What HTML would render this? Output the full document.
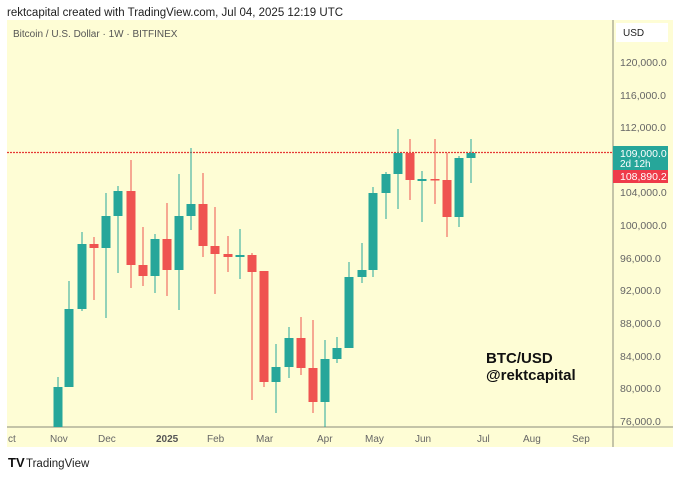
<!DOCTYPE html>
<html><head><meta charset="utf-8"><style>
body{margin:0;width:680px;height:474px;background:#fff;overflow:hidden;font-family:"Liberation Sans",sans-serif}
</style></head><body>
<svg width="680" height="474" xmlns="http://www.w3.org/2000/svg" font-family="Liberation Sans, sans-serif">
<text x="7" y="16" font-size="11.5" fill="#222">rektcapital created with TradingView.com, Jul 04, 2025 12:19 UTC</text>
<rect x="7" y="20" width="666" height="427" fill="#fefdd5"/>
<text x="13" y="37" font-size="10" fill="#555">Bitcoin / U.S. Dollar · 1W · BITFINEX</text>
<line x1="613" y1="20" x2="613" y2="447" stroke="#8a8a7a" stroke-width="1"/>
<line x1="7" y1="427" x2="673" y2="427" stroke="#8a8a7a" stroke-width="1"/>
<line x1="7" y1="152.5" x2="613" y2="152.5" stroke="#e53935" stroke-width="1.2" stroke-dasharray="2,1"/>
<rect x="616" y="23" width="52" height="19" fill="#fff"/>
<text x="623" y="36" font-size="10" fill="#222">USD</text>
<g font-size="10.5" fill="#666">
<text x="620" y="66">120,000.0</text>
<text x="620" y="99">116,000.0</text>
<text x="620" y="131">112,000.0</text>
<text x="620" y="196">104,000.0</text>
<text x="620" y="229">100,000.0</text>
<text x="620" y="262">96,000.0</text>
<text x="620" y="294">92,000.0</text>
<text x="620" y="327">88,000.0</text>
<text x="620" y="360">84,000.0</text>
<text x="620" y="392">80,000.0</text>
<text x="620" y="425">76,000.0</text>
</g>
<rect x="613" y="146" width="55" height="24" fill="#26a69a"/>
<text x="620" y="157" font-size="10.5" fill="#fff">109,000.0</text>
<text x="620" y="167" font-size="10" fill="#fff">2d 12h</text>
<rect x="613" y="170" width="55" height="13" fill="#ef3b4a"/>
<text x="620" y="180" font-size="10.5" fill="#fff">108,890.2</text>
<g font-size="10" fill="#666">
<text x="8" y="442">ct</text>
<text x="50" y="442">Nov</text>
<text x="98" y="442">Dec</text>
<text x="156" y="442" font-weight="bold" fill="#555">2025</text>
<text x="207" y="442">Feb</text>
<text x="256" y="442">Mar</text>
<text x="317" y="442">Apr</text>
<text x="365" y="442">May</text>
<text x="415" y="442">Jun</text>
<text x="477" y="442">Jul</text>
<text x="523" y="442">Aug</text>
<text x="572" y="442">Sep</text>
</g>
<g stroke-width="1">
<g fill="#26a69a" stroke="#26a69a">
<line x1="58" x2="58" y1="377" y2="427"/><rect x="53.5" y="387" width="9" height="40" stroke="none"/>
<line x1="69" x2="69" y1="281" y2="387"/><rect x="64.5" y="309" width="9" height="78" stroke="none"/>
<line x1="82" x2="82" y1="232" y2="311"/><rect x="77.5" y="244" width="9" height="65" stroke="none"/>
<line x1="106" x2="106" y1="193" y2="318"/><rect x="101.5" y="216" width="9" height="32" stroke="none"/>
<line x1="118" x2="118" y1="186" y2="273"/><rect x="113.5" y="191" width="9" height="25" stroke="none"/>
<line x1="155" x2="155" y1="234" y2="293"/><rect x="150.5" y="239" width="9" height="37" stroke="none"/>
<line x1="179" x2="179" y1="174" y2="310"/><rect x="174.5" y="216" width="9" height="54" stroke="none"/>
<line x1="191" x2="191" y1="148" y2="230"/><rect x="186.5" y="204" width="9" height="12" stroke="none"/>
<line x1="240" x2="240" y1="229" y2="279"/><rect x="235.5" y="255" width="9" height="2" stroke="none"/>
<line x1="276" x2="276" y1="344" y2="413"/><rect x="271.5" y="367" width="9" height="15" stroke="none"/>
<line x1="289" x2="289" y1="327" y2="378"/><rect x="284.5" y="338" width="9" height="29" stroke="none"/>
<line x1="325" x2="325" y1="340" y2="427"/><rect x="320.5" y="359" width="9" height="43" stroke="none"/>
<line x1="337" x2="337" y1="337" y2="363"/><rect x="332.5" y="348" width="9" height="11" stroke="none"/>
<line x1="349" x2="349" y1="262" y2="348"/><rect x="344.5" y="277" width="9" height="71" stroke="none"/>
<line x1="362" x2="362" y1="243" y2="283"/><rect x="357.5" y="270" width="9" height="7" stroke="none"/>
<line x1="373" x2="373" y1="187" y2="277"/><rect x="368.5" y="193" width="9" height="77" stroke="none"/>
<line x1="386" x2="386" y1="172" y2="219"/><rect x="381.5" y="174" width="9" height="19" stroke="none"/>
<line x1="398" x2="398" y1="129" y2="209"/><rect x="393.5" y="153" width="9" height="21" stroke="none"/>
<line x1="422" x2="422" y1="171" y2="222"/><rect x="417.5" y="179" width="9" height="2" stroke="none"/>
<line x1="459" x2="459" y1="156" y2="227"/><rect x="454.5" y="158" width="9" height="59" stroke="none"/>
<line x1="471" x2="471" y1="139" y2="183"/><rect x="466.5" y="153" width="9" height="5" stroke="none"/>
</g>
<g fill="#ef5350" stroke="#ef5350">
<line x1="94" x2="94" y1="237" y2="300"/><rect x="89.5" y="244" width="9" height="4" stroke="none"/>
<line x1="131" x2="131" y1="160" y2="288"/><rect x="126.5" y="191" width="9" height="74" stroke="none"/>
<line x1="143" x2="143" y1="227" y2="286"/><rect x="138.5" y="265" width="9" height="11" stroke="none"/>
<line x1="167" x2="167" y1="203" y2="296"/><rect x="162.5" y="239" width="9" height="31" stroke="none"/>
<line x1="203" x2="203" y1="173" y2="257"/><rect x="198.5" y="204" width="9" height="42" stroke="none"/>
<line x1="215" x2="215" y1="207" y2="294"/><rect x="210.5" y="246" width="9" height="8" stroke="none"/>
<line x1="228" x2="228" y1="236" y2="272"/><rect x="223.5" y="254" width="9" height="3" stroke="none"/>
<line x1="252" x2="252" y1="253" y2="400"/><rect x="247.5" y="255" width="9" height="17" stroke="none"/>
<line x1="264" x2="264" y1="271" y2="387"/><rect x="259.5" y="271" width="9" height="111" stroke="none"/>
<line x1="301" x2="301" y1="317" y2="375"/><rect x="296.5" y="338" width="9" height="30" stroke="none"/>
<line x1="313" x2="313" y1="320" y2="413"/><rect x="308.5" y="368" width="9" height="34" stroke="none"/>
<line x1="410" x2="410" y1="139" y2="200"/><rect x="405.5" y="153" width="9" height="27" stroke="none"/>
<line x1="435" x2="435" y1="139" y2="204"/><rect x="430.5" y="179" width="9" height="1.5" stroke="none"/>
<line x1="447" x2="447" y1="153" y2="237"/><rect x="442.5" y="180" width="9" height="37" stroke="none"/>
</g>
</g>
<text x="486" y="363" font-size="15" font-weight="bold" fill="#111">BTC/USD</text>
<text x="486" y="380" font-size="15" font-weight="bold" fill="#111">@rektcapital</text>
<text x="8" y="467" font-size="13" font-weight="bold" fill="#111">TV</text>
<text x="26" y="467" font-size="11.5" fill="#222">TradingView</text>
</svg>
</body></html>
